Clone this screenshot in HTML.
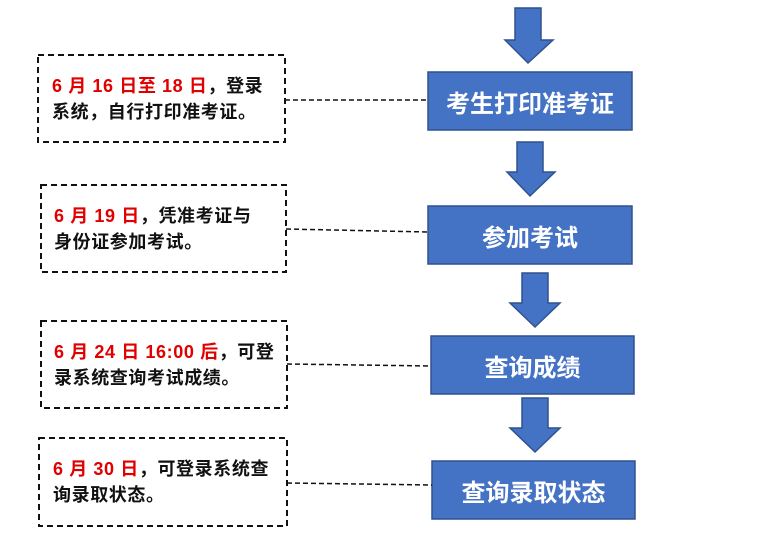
<!DOCTYPE html>
<html><head><meta charset="utf-8"><style>
body{margin:0;background:#fff;width:782px;height:540px;overflow:hidden;position:relative;font-family:"Liberation Sans","Noto Sans CJK SC",sans-serif}
.t{position:absolute;font-size:18px;letter-spacing:0.6px;font-weight:bold;line-height:26px;color:#111;white-space:nowrap}
.r{color:#e00000}
.b{position:absolute;color:#fff;font-size:24px;font-weight:bold;display:flex;align-items:center;justify-content:center}
</style></head><body>
<svg width="782" height="540" style="position:absolute;left:0;top:0">
<g fill="#4472c4" stroke="#2f528f" stroke-width="1.5">
<polygon points="515,8 541,8 541,40 553,40 528,63 505,40 515,40"/>
<polygon points="517,142 543,142 543,172 555,172 530,196 507,172 517,172"/>
<polygon points="522,273 548,273 548,303 560,303 535,327 510,303 522,303"/>
<polygon points="522,398 548,398 548,428 560,428 535,452 510,428 522,428"/>
<rect x="428" y="72" width="204" height="58"/>
<rect x="428" y="206" width="204" height="58"/>
<rect x="431" y="336" width="203" height="58"/>
<rect x="432" y="461" width="203" height="58"/>
</g>
<g fill="none" stroke="#111" stroke-width="2" stroke-dasharray="6,4">
<rect x="38" y="55" width="247" height="87"/>
<rect x="41" y="185" width="245" height="87"/>
<rect x="41" y="321" width="246" height="87"/>
<rect x="39" y="438" width="248" height="88"/>
</g>
<g stroke="#111" stroke-width="1.5" stroke-dasharray="5,3">
<line x1="285" y1="100" x2="428" y2="100"/>
<line x1="286" y1="229" x2="428" y2="232"/>
<line x1="287" y1="364" x2="431" y2="366"/>
<line x1="287" y1="483" x2="432" y2="485"/>
</g>
</svg>
<div class="b" style="left:428px;top:72px;width:204px;height:58px">考生打印准考证</div>
<div class="b" style="left:428px;top:206px;width:204px;height:58px">参加考试</div>
<div class="b" style="left:431px;top:336px;width:203px;height:58px">查询成绩</div>
<div class="b" style="left:432px;top:461px;width:203px;height:58px">查询录取状态</div>
<div class="t" style="left:52px;top:73px"><span class="r">6 月 16 日至 18 日</span>，登录<br>系统，自行打印准考证。</div>
<div class="t" style="left:54px;top:203px"><span class="r">6 月 19 日</span>，凭准考证与<br>身份证参加考试。</div>
<div class="t" style="left:54px;top:339px"><span class="r">6 月 24 日 16:00 后</span>，可登<br>录系统查询考试成绩。</div>
<div class="t" style="left:53px;top:456px"><span class="r">6 月 30 日</span>，可登录系统查<br>询录取状态。</div>
</body></html>
